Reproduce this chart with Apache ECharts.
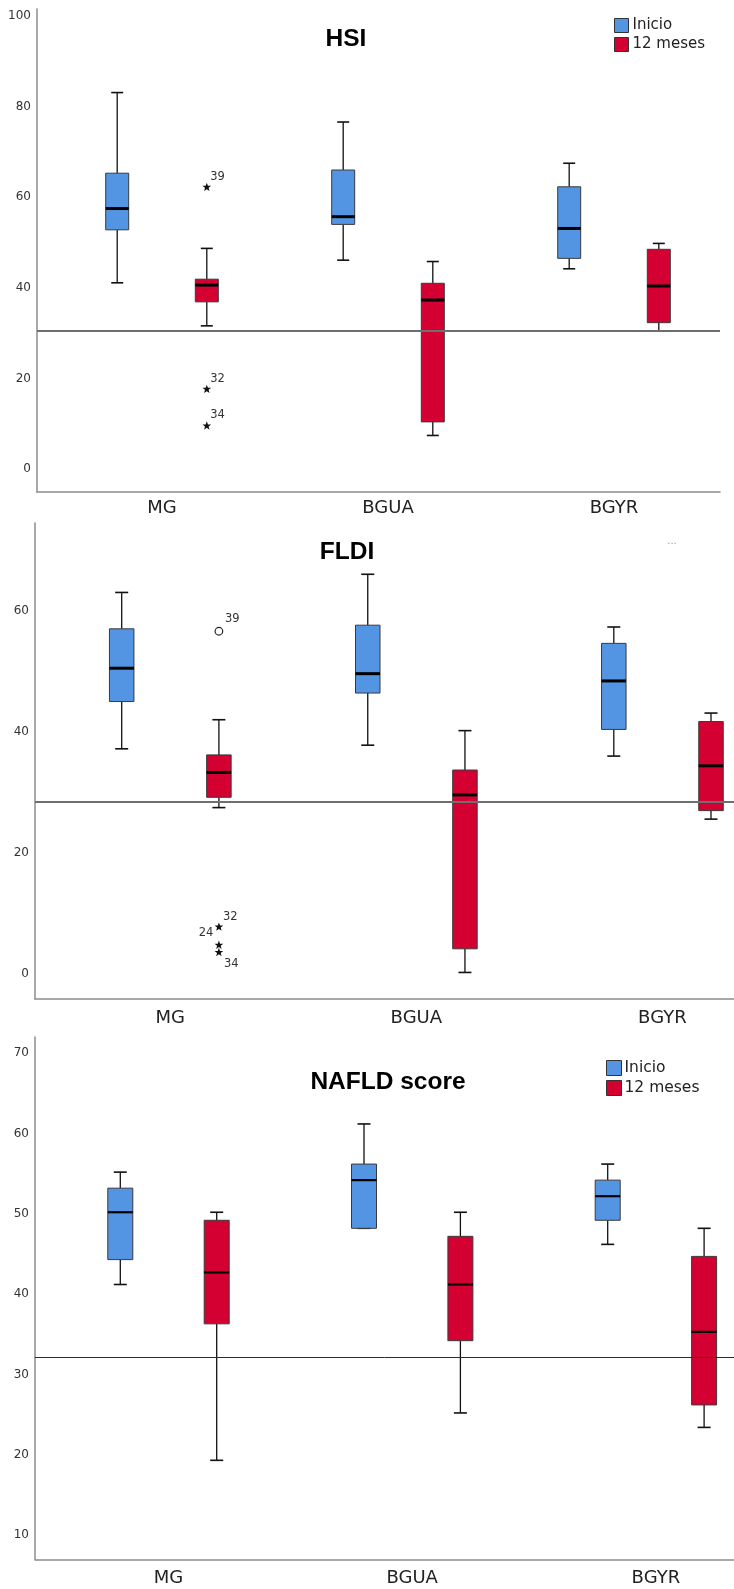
<!DOCTYPE html>
<html><head><meta charset="utf-8">
<script src="https://cdn.jsdelivr.net/npm/echarts@6/dist/echarts.min.js"></script>
<style>html,body{margin:0;padding:0;background:#fff}#c{width:734px;height:1589px}</style>
</head><body><div id="c"></div>
<script>
// ---------- DATA ----------
const categories = ['MG', 'BGUA', 'BGYR'];
const seriesNames = ['Inicio', '12 meses'];
// each box: [min, Q1, median, Q3, max], one per category
const hsiInicio = [[41.1, 52.8, 57.5, 65.3, 83.1], [46.1, 54.0, 55.7, 66.0, 76.6], [44.2, 46.5, 53.1, 62.3, 67.5]];
const hsi12m    = [[31.6, 36.9, 40.6, 41.9, 48.7], [7.4, 10.4, 37.3, 41.0, 45.8], [30.5, 32.3, 40.4, 48.5, 49.8]];
const hsiOutVals  = [62.2, 17.6, 9.5];
const hsiOutIds   = ['39', '32', '34'];
const hsiOutKinds = ['star', 'star', 'star'];
const hsiRef = 30.5;
const hsiTicks = [0, 20, 40, 60, 80, 100];

const fldiInicio = [[37.2, 45.0, 50.5, 57.0, 63.0], [37.8, 46.4, 49.6, 57.6, 66.0], [36.0, 40.4, 48.4, 54.6, 57.3]];
const fldi12m    = [[27.5, 29.2, 33.3, 36.2, 42.0], [0.3, 4.2, 29.6, 33.7, 40.2], [25.6, 27.0, 34.4, 41.7, 43.1]];
const fldiOutVals  = [56.6, 7.8, 4.8, 3.6];
const fldiOutIds   = ['39', '32', '24', '34'];
const fldiOutKinds = ['circle', 'star', 'star', 'star'];
const fldiRef = 28.4;
const fldiTicks = [0, 20, 40, 60];

const nafldInicio = [[41.2, 44.3, 50.2, 53.2, 55.2], [48.2, 48.2, 54.2, 56.2, 61.2], [46.2, 49.2, 52.2, 54.2, 56.2]];
const nafld12m    = [[19.3, 36.3, 42.7, 49.2, 50.2], [25.2, 34.2, 41.2, 47.2, 50.2], [23.4, 26.2, 35.3, 44.7, 48.2]];
const nafldOutVals = [];
const nafldOutIds = [];
const nafldOutKinds = [];
const nafldRef = 32.2;
const nafldTicks = [10, 20, 30, 40, 50, 60, 70];

const titles = ['HSI', 'FLDI', 'NAFLD score'];

// ---------- LAYOUT / STYLE ----------
const BLUE = '#5495E3', RED = '#D40032';
const FONT = 'DejaVu Sans';
const panels = [
  { title: titles[0], inicio: hsiInicio, meses: hsi12m, outVals: hsiOutVals, outIds: hsiOutIds, outKinds: hsiOutKinds, outGroup: 0,
    ref: hsiRef, ticks: hsiTicks,
    left: 37, top: 9, width: 683, height: 483, yMin: -5.08, yMax: 101.55,
    labelPx: [162, 388, 614], half: 44.8, boxW: 23, capW: 12, medW: 3,
    labelMargin: 7, refColor: '#6e6e6e', refW: 1.8, axisColor: '#8c8c8c', axisW: 1.5,
    titleX: 346, titleY: 39,
    outLabel: [[3.5, -10, 'left'], [3.5, -10.5, 'left'], [3.5, -11, 'left']] },
  { title: titles[1], inicio: fldiInicio, meses: fldi12m, outVals: fldiOutVals, outIds: fldiOutIds, outKinds: fldiOutKinds, outGroup: 0,
    ref: fldiRef, ticks: fldiTicks,
    left: 35, top: 523, width: 699, height: 476, yMin: -4.08, yMax: 74.46,
    labelPx: [170.3, 416.4, 662.4], half: 48.6, boxW: 24.5, capW: 13, medW: 3,
    labelMargin: 10, refColor: '#6e6e6e', refW: 1.8, axisColor: '#8c8c8c', axisW: 1.5,
    titleX: 347, titleY: 552.5,
    outLabel: [[6, -12.5, 'left'], [4, -10, 'left'], [-5.5, -12, 'right'], [5, 12, 'left']] },
  { title: titles[2], inicio: nafldInicio, meses: nafld12m, outVals: nafldOutVals, outIds: nafldOutIds, outKinds: nafldOutKinds, outGroup: 0,
    ref: nafldRef, ticks: nafldTicks,
    left: 35, top: 1037, width: 699, height: 522.3, yMin: 6.97, yMax: 72.03,
    labelPx: [168.5, 412.6, 655.9], half: 48.2, boxW: 25, capW: 13, medW: 2.2,
    labelMargin: 10, refColor: '#2a2a2a', refW: 1, axisColor: '#8c8c8c', axisW: 1.5,
    titleX: 388, titleY: 1082,
    outLabel: [] }
];

function starPoints(cx, cy, R, r) {
  const pts = [];
  for (let k = 0; k < 10; k++) {
    const a = -Math.PI / 2 + k * Math.PI / 5;
    const rad = k % 2 === 0 ? R : r;
    pts.push([cx + rad * Math.cos(a), cy + rad * Math.sin(a)]);
  }
  return pts;
}

function boxRenderer(P, offset, color) {
  return function (params, api) {
    const x = api.value(0);
    const ys = [1, 2, 3, 4, 5].map(k => api.coord([x, api.value(k)])[1]);
    const cx = api.coord([x, 0])[0] + offset;
    const [yMin, yQ1, yMed, yQ3, yMax] = ys;
    const wl = { stroke: '#111', lineWidth: 1.3 };
    const hw = P.boxW / 2, hc = P.capW / 2;
    return { type: 'group', children: [
      { type: 'line', shape: { x1: cx, y1: yMax, x2: cx, y2: yQ3 }, style: wl },
      { type: 'line', shape: { x1: cx, y1: yQ1, x2: cx, y2: yMin }, style: wl },
      { type: 'line', shape: { x1: cx - hc, y1: yMax, x2: cx + hc, y2: yMax }, style: { stroke: '#111', lineWidth: 1.6 } },
      { type: 'line', shape: { x1: cx - hc, y1: yMin, x2: cx + hc, y2: yMin }, style: { stroke: '#111', lineWidth: 1.6 } },
      { type: 'rect', shape: { x: cx - hw, y: yQ3, width: P.boxW, height: Math.max(yQ1 - yQ3, 0.5) }, style: { fill: color, stroke: '#3a3a3a', lineWidth: 1 } },
      { type: 'line', shape: { x1: cx - hw, y1: yMed, x2: cx + hw, y2: yMed }, style: { stroke: '#000', lineWidth: P.medW } }
    ]};
  };
}

function outlierRenderer(P) {
  return function (params, api) {
    const i = params.dataIndex;
    const pt = api.coord([api.value(0), api.value(1)]);
    const cx = pt[0] + P.half, cy = pt[1];
    const kind = P.outKinds[i];
    const off = P.outLabel[i] || [4, -10, 'left'];
    const mark = kind === 'circle'
      ? { type: 'circle', shape: { cx: cx, cy: cy, r: 3.8 }, style: { fill: '#fff', stroke: '#222', lineWidth: 1.2 } }
      : { type: 'polygon', shape: { points: starPoints(cx, cy, 4.6, 1.9) }, style: { fill: '#111' } };
    return { type: 'group', children: [
      mark,
      { type: 'text', style: { text: P.outIds[i], x: cx + off[0], y: cy + off[1], align: off[2], verticalAlign: 'middle',
        font: '11.5px "' + FONT + '"', fill: '#333' } }
    ]};
  };
}

const grid = [], xAxis = [], yAxis = [], series = [], graphic = [];
panels.forEach((P, p) => {
  const unit = (P.labelPx[2] - P.labelPx[0]) / 2;
  const xMin = -(P.labelPx[0] - P.left) / unit;
  const xMax = xMin + P.width / unit;
  grid.push({ left: P.left, top: P.top, width: P.width, height: P.height, outerBoundsMode: 'none', containLabel: false });
  xAxis.push({
    type: 'value', gridIndex: p, min: xMin, max: xMax,
    axisLine: { show: true, onZero: false, lineStyle: { color: P.axisColor, width: P.axisW } },
    axisTick: { show: false }, splitLine: { show: false },
    axisLabel: { customValues: [0, 1, 2], formatter: v => categories[Math.round(v)] || '', margin: P.labelMargin,
      fontFamily: FONT, fontSize: 18, color: '#222' }
  });
  yAxis.push({
    type: 'value', gridIndex: p, min: P.yMin, max: P.yMax,
    axisLine: { show: true, onZero: false, lineStyle: { color: P.axisColor, width: P.axisW } },
    axisTick: { show: false }, splitLine: { show: false },
    axisLabel: { customValues: P.ticks, margin: 6, fontFamily: FONT, fontSize: 12, color: '#333' }
  });
  const mk = arr => arr.map((b, i) => [i].concat(b));
  series.push({ type: 'custom', name: seriesNames[0], xAxisIndex: p, yAxisIndex: p, itemStyle: { color: BLUE },
    encode: { x: 0, y: [1, 2, 3, 4, 5] }, data: mk(P.inicio), renderItem: boxRenderer(P, -P.half, BLUE), z: 2 });
  series.push({ type: 'custom', name: seriesNames[1], xAxisIndex: p, yAxisIndex: p, itemStyle: { color: RED },
    encode: { x: 0, y: [1, 2, 3, 4, 5] }, data: mk(P.meses), renderItem: boxRenderer(P, P.half, RED), z: 2 });
  if (P.outVals.length) {
    series.push({ type: 'custom', name: 'atípicos ' + p, xAxisIndex: p, yAxisIndex: p, encode: { x: 0, y: 1 },
      data: P.outVals.map(v => [P.outGroup, v]), renderItem: outlierRenderer(P), z: 3 });
  }
  series.push({ type: 'line', name: 'ref ' + p, xAxisIndex: p, yAxisIndex: p, data: [], z: 5, silent: true,
    markLine: { silent: true, symbol: 'none', label: { show: false }, animation: false,
      lineStyle: { color: P.refColor, width: P.refW, type: 'solid' }, data: [{ yAxis: P.ref }] } });
  graphic.push({ type: 'text', left: null, x: P.titleX, y: P.titleY, z: 10,
    style: { text: P.title, align: 'center', verticalAlign: 'middle', font: 'bold 24.5px "Liberation Sans"', fill: '#000' } });
});
graphic.push({ type: 'text', x: 672, y: 541, style: { text: '...', align: 'center', verticalAlign: 'middle', font: '10px "' + FONT + '"', fill: '#999' } });

const legendData = [
  { name: seriesNames[0], icon: 'rect', itemStyle: { color: BLUE, borderColor: '#333', borderWidth: 1 } },
  { name: seriesNames[1], icon: 'rect', itemStyle: { color: RED, borderColor: '#333', borderWidth: 1 } }
];
const legend = [
  { left: 614, top: 18, orient: 'vertical', padding: 0, itemWidth: 14, itemHeight: 14, itemGap: 4, selectedMode: false,
    textStyle: { fontFamily: FONT, fontSize: 15, color: '#222', padding: [0, 0, 0, -1] }, data: legendData },
  { left: 606, top: 1060, orient: 'vertical', padding: 0, itemWidth: 15, itemHeight: 15, itemGap: 4, selectedMode: false,
    textStyle: { fontFamily: FONT, fontSize: 15.5, color: '#222', padding: [0, 0, 0, -2] }, data: legendData }
];

const chart = echarts.init(document.getElementById('c'), null, { renderer: 'canvas' });
chart.setOption({ animation: false, backgroundColor: '#fff', grid, xAxis, yAxis, series, legend, graphic });
</script></body></html>
